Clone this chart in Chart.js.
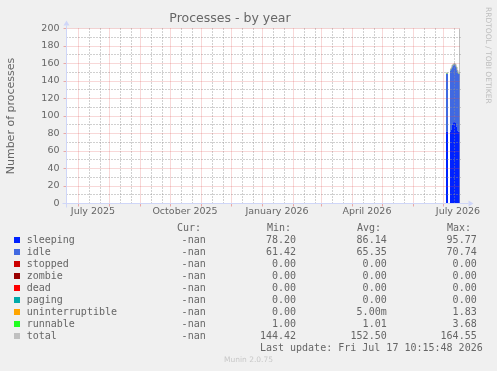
<!DOCTYPE html>
<html><head><meta charset="utf-8">
<script src="https://cdn.jsdelivr.net/npm/chart.js@4/dist/chart.umd.min.js"></script>
<style>
html,body{margin:0;padding:0;background:#f0f0f0;}
#wrap{position:relative;width:497px;height:371px;overflow:hidden;background:#f0f0f0;}
canvas{position:absolute;left:0;top:0;}
.t{position:absolute;font-family:"DejaVu Sans Mono",monospace;font-size:10px;color:#666;line-height:12px;white-space:pre;}
.r{text-align:right;}
.sq{position:absolute;width:6px;height:6px;}
#wm{position:absolute;left:484px;top:7px;writing-mode:vertical-rl;font-family:"DejaVu Sans",sans-serif;font-size:7.5px;color:#bdbdbd;white-space:pre;line-height:8px;}
#munin{position:absolute;left:0;width:497px;text-align:center;top:355px;font-family:"DejaVu Sans",sans-serif;font-size:7.5px;color:#c8c8c8;line-height:10px;}
</style></head><body>
<div id="wrap"><canvas id="c" width="497" height="371"></canvas></div>
<script>
// ---------- axis definition (dates) ----------
const axisStart = '2025-06-19';
const axisEnd = '2026-07-18';
const monthStarts = ['2025-07-01','2025-08-01','2025-09-01','2025-10-01','2025-11-01','2025-12-01',
  '2026-01-01','2026-02-01','2026-03-01','2026-04-01','2026-05-01','2026-06-01','2026-07-01'];
const xLabelDates = ['2025-07-16','2025-10-16','2026-01-16','2026-04-16','2026-07-16'];
const xLabels = ['July 2025','October 2025','January 2026','April 2026','July 2026'];
const yMajorTicks = [20,40,60,80,100,120,140,160,180,200];
const yMinorTicks = [10,30,50,70,90,110,130,150,170,190];

// ---------- series (daily values, last date closes the step) ----------
const dates = ['2026-07-04','2026-07-05','2026-07-06','2026-07-07','2026-07-08','2026-07-09','2026-07-10',
  '2026-07-11','2026-07-12','2026-07-13','2026-07-14','2026-07-15','2026-07-16','2026-07-17','2026-07-18'];
const sleeping        = [82,82,82,null,82,84,90,93,94,92,88,83,82,82,82];
const idle            = [66,66,66,null,70,70,67,65,65,66,67,68,66,66,66];
const stopped         = [0,0,0,null,0,0,0,0,0,0,0,0,0,0,0];
const zombie          = [0,0,0,null,0,0,0,0,0,0,0,0,0,0,0];
const dead            = [0,0,0,null,0,0,0,0,0,0,0,0,0,0,0];
const paging          = [0,0,0,null,0,0,0,0,0,0,0,0,0,0,0];
const uninterruptible = [0,0,0,null,0,0,0,0,0,0,0,0,0,0,0];
const runnable        = [1,1,1,null,1,1,1,1,1,1,1,1,1,1,1];
const totalDates  = ['2026-07-04','2026-07-05','2026-07-06','2026-07-07','2026-07-08','2026-07-09','2026-07-10',
  '2026-07-11','2026-07-12','2026-07-13','2026-07-14','2026-07-15','2026-07-16','2026-07-17','2026-07-18','2026-07-18','2026-07-18'];
const totalValues = [149,149,149,null,153,155,158,159,160,159,156,152,149,149,149,200,0];

// ---------- legend ----------
const legendNames  = ['sleeping','idle','stopped','zombie','dead','paging','uninterruptible','runnable','total'];
const legendColors = ['#0022ff','#4169e1','#cc0000','#990000','#ff0000','#00aaaa','#ffa500','#22ff22','#c0c0c0'];
const curVals = ['-nan','-nan','-nan','-nan','-nan','-nan','-nan','-nan','-nan'];
const minVals = ['78.20','61.42','0.00','0.00','0.00','0.00','0.00','1.00','144.42'];
const avgVals = ['86.14','65.35','0.00','0.00','0.00','0.00','5.00m','1.01','152.50'];
const maxVals = ['95.77','70.74','0.00','0.00','0.00','0.00','1.83','3.68','164.55'];
const lastUpdate = 'Last update: Fri Jul 17 10:15:48 2026';

function dayOf(s){const [y,m,d]=s.split('-').map(Number);const [y0,m0,d0]=axisStart.split('-').map(Number);
  return (Date.UTC(y,m-1,d)-Date.UTC(y0,m0-1,d0))/86400000;}
const pts = arr => dates.map((d,i)=>({x:dayOf(d), y:arr[i]}));

const stackSeries = [sleeping, idle, stopped, zombie, dead, paging, uninterruptible, runnable];
const datasets = stackSeries.map((arr,i)=>({
  label: legendNames[i], data: pts(arr), stack:'procs',
  backgroundColor: legendColors[i], borderColor:'rgba(0,0,0,0)', borderWidth:0,
  fill: i===0 ? 'origin' : '-1', stepped:true, pointRadius:0, spanGaps:false, order:1
}));
datasets.push({label:'total', data: totalDates.map((d,i)=>({x:dayOf(d), y:totalValues[i]})), stack:'total',
  borderColor:'#a8a8a8', borderWidth:1, fill:false, stepped:true, pointRadius:0, spanGaps:false, order:0});

const rrdGrid = {
  id:'rrdGrid',
  beforeDraw(chart){
    const {ctx, chartArea:a} = chart;
    ctx.save(); ctx.fillStyle='#ffffff'; ctx.fillRect(a.left,a.top,a.right-a.left,a.bottom-a.top); ctx.restore();
  },
  afterDatasetsDraw(chart){
    const {ctx, chartArea:a, scales:{x,y}} = chart;
    const minor='rgba(143,143,143,0.85)', major='rgba(222,79,79,0.45)';
    const L=Math.floor(a.left)+0.5, R=Math.floor(a.right)+0.5, T=Math.floor(a.top)+0.5, B=Math.floor(a.bottom)+0.5;
    const line=(x1,y1,x2,y2)=>{ctx.beginPath();ctx.moveTo(x1,y1);ctx.lineTo(x2,y2);ctx.stroke();};
    ctx.save(); ctx.lineWidth=1;
    ctx.setLineDash([1,2]);
    ctx.strokeStyle=minor;
    yMinorTicks.forEach(v=>{const p=Math.floor(y.getPixelForValue(v))+0.5; line(L,p,R,p);});
    monthStarts.forEach(m=>{const d=dayOf(m);[11,22].forEach(o=>{const p=Math.floor(x.getPixelForValue(d+o))+0.5; if(p<R) line(p,B,p,T);});});
    ctx.setLineDash([1,1]);
    ctx.strokeStyle=major;
    yMajorTicks.forEach(v=>{const p=Math.floor(y.getPixelForValue(v))+0.5; line(L,p,R,p);});
    monthStarts.forEach(m=>{const p=Math.floor(x.getPixelForValue(dayOf(m)))+0.5; line(p,B,p,T);});
    ctx.setLineDash([]);
    yMajorTicks.forEach(v=>{const p=Math.floor(y.getPixelForValue(v))+0.5; line(L-3,p,L,p);});
    monthStarts.forEach(m=>{const p=Math.floor(x.getPixelForValue(dayOf(m)))+0.5; line(p,B,p,B+3);});
    // axes
    ctx.strokeStyle='#CFD6F8'; ctx.fillStyle='#CFD6F8';
    line(L-4,B,R+8,B);
    line(L,B+4,L,T-3);
    ctx.beginPath(); ctx.moveTo(R+13,B); ctx.lineTo(R+8,B-3); ctx.lineTo(R+8,B+3); ctx.closePath(); ctx.fill();
    ctx.beginPath(); ctx.moveTo(L,T-8); ctx.lineTo(L-3,T-3); ctx.lineTo(L+3,T-3); ctx.closePath(); ctx.fill();
    ctx.restore();
  }
};

const xLabelDays = xLabelDates.map(dayOf);
new Chart(document.getElementById('c'), {
  type:'line',
  data:{datasets},
  plugins:[rrdGrid],
  options:{
    responsive:false, animation:false, devicePixelRatio:1,
    layout:{padding:{left:0,right:37,top:0,bottom:147.5}},
    plugins:{
      legend:{display:false}, tooltip:{enabled:false},
      title:{display:true, text:'Processes - by year', color:'#666',
        font:{family:'DejaVu Sans', size:12.5, weight:'normal', lineHeight:1.2}, padding:{top:11.5,bottom:2}}
    },
    scales:{
      x:{type:'linear', min:0, max:dayOf(axisEnd),
        afterBuildTicks(s){ s.ticks = xLabelDays.map(v=>({value:v})); },
        afterFit(s){ s.height=20; },
        ticks:{autoSkip:false, maxRotation:0, padding:2.5, color:'#666',
          font:{family:'DejaVu Sans', size:9.5},
          callback:(v,i)=>xLabels[i]},
        grid:{display:false, drawTicks:false}, border:{display:false}},
      y:{type:'linear', min:0, max:200, stacked:true,
        afterFit(s){ s.width=66; },
        ticks:{stepSize:20, padding:6.5, color:'#666', font:{family:'DejaVu Sans', size:9.5}},
        grid:{display:false, drawTicks:false}, border:{display:false},
        title:{display:true, text:'Number of processes', color:'#666',
          font:{family:'DejaVu Sans', size:11, lineHeight:1.2}, padding:{top:4.4,bottom:0}}}
    }
  }
});

// HTML legend (monospace, RRDtool style)
const wrap=document.getElementById('wrap');
function addText(txt, top, opts){const d=document.createElement('div');d.className='t'+(opts.right!==undefined?' r':'');
  d.textContent=txt; d.style.top=top+'px';
  if(opts.left!==undefined) d.style.left=opts.left+'px';
  if(opts.right!==undefined) d.style.right=(497-opts.right)+'px';
  wrap.appendChild(d);}
const colRight=[205.7,296,386.7,476.7];
const headers=['Cur:','Min:','Avg:','Max:'];
const headerLeft=[177,267,357,447];
headers.forEach((h,i)=>addText(h,222.3,{left:headerLeft[i]}));
legendNames.forEach((n,i)=>{
  const cy=240+12*i-(i>=1?0.3:0);
  const sq=document.createElement('div');sq.className='sq';sq.style.left='14px';sq.style.top=(cy-3)+'px';sq.style.background=legendColors[i];wrap.appendChild(sq);
  addText(n,cy-6,{left:26.7});
  [curVals[i],minVals[i],avgVals[i],maxVals[i]].forEach((v,j)=>addText(v,cy-6,{right:colRight[j]}));
});
addText(lastUpdate,341.7,{right:482.7});
const wm=document.createElement('div');wm.id='wm';wm.textContent='RRDTOOL / TOBI OETIKER';wrap.appendChild(wm);
const mu=document.createElement('div');mu.id='munin';mu.textContent='Munin 2.0.75';wrap.appendChild(mu);
</script>
</body></html>
